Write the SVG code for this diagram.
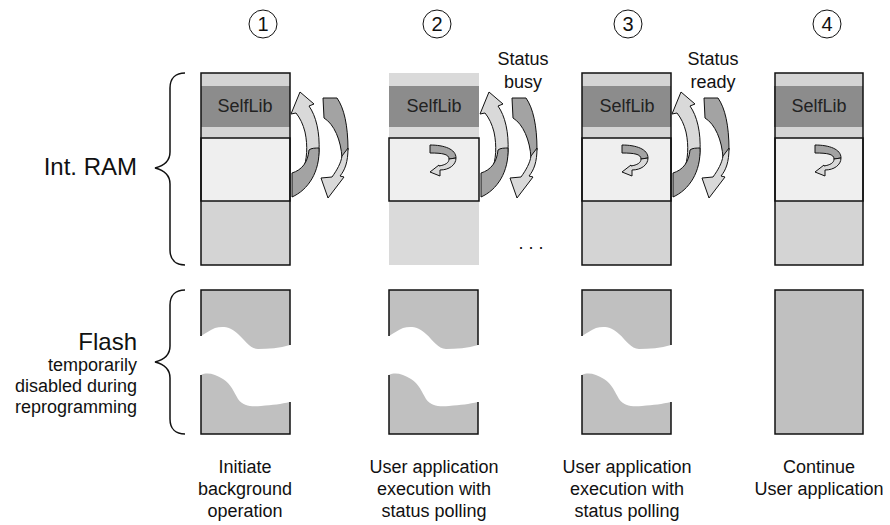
<svg xmlns="http://www.w3.org/2000/svg" width="890" height="525" viewBox="0 0 890 525">
<style>
text{font-family:"Liberation Sans",Arial,sans-serif;fill:#111}
.big{font-size:24px}
.med{font-size:18px}
.lib{font-size:18px;text-anchor:middle;fill:#222}
.cap{font-size:18px;text-anchor:middle}
.num{font-size:20px;text-anchor:middle}
.ln{fill:none;stroke:#111;stroke-width:1.5}
.brace{fill:none;stroke:#111;stroke-width:1.5}
.light{fill:#d9d9d9;stroke:#111;stroke-width:1;stroke-linejoin:round}
.dark{fill:#a3a3a3;stroke:#111;stroke-width:1;stroke-linejoin:round}
.flash{fill:#c0c0c0}
.circ{fill:none;stroke:#111;stroke-width:1}
</style>
<defs>
<g id="bigArrows">
<path class="light" d="M300,92 L314,104 L309,106 C316,116 320,132 319,152 C318,165 314,172 308,176 L303,170 C307,160 308,146 305,132 C303,124 300,118 296,113 L291,114 Z"/>
<path class="dark" d="M319,148 C320,172 308,190 292,197 L292,173 C302,170 308,162 309,150 C311,148 316,148 319,148 Z"/>
<path class="dark" d="M323,98 L337,98 C344,108 348,125 348,150 L342,158 C341,140 334,124 324,118 Z"/>
<path class="light" d="M348,148 C348,162 345,170 340,176 L344,177 L328,198 L321,178 L332,177 C337,170 341,163 342,156 Z"/>
</g>
<g id="smallArrow">
<path class="dark" d="M0,0 C14,0 26,4 26,13 L19,14 C19,9 12,8 0,8 Z"/>
<path class="light" d="M26,13 C26,20 19,25 10,25 L10,31 L0,27 L9,20 L9,21 C15,20 19,18 19,14 Z"/>
</g>
<g id="flashSplit">
<path class="flash" d="M0,0 H89 V55 C79,58 67,59 57,59 C49,59 44,50 37,44 C29,36 21,36 14,38 C9,40 5,43 0,46 Z"/>
<polyline class="ln" points="0,46 0,0 89,0 89,55"/>
<path class="flash" d="M0,85 C6,82 14,84 22,89 C30,94 33,102 37,109 C42,116 50,117 60,116 C72,115 80,114 89,112 V144 H0 Z"/>
<polyline class="ln" points="0,85 0,144 89,144 89,112"/>
</g>
</defs>

<g id="labels">
<text class="big" x="137" y="175" text-anchor="end">Int. RAM</text>
<text class="big" x="137" y="350" text-anchor="end">Flash</text>
<text class="med" x="137" y="371" text-anchor="end">temporarily</text>
<text class="med" x="137" y="392" text-anchor="end">disabled during</text>
<text class="med" x="137" y="413" text-anchor="end">reprogramming</text>
</g>

<g id="braces">
<path class="brace" d="M185,73 C176,73 170,78 170,88 L170,152 C170,162 163,166 155,168 C163,170 170,174 170,184 L170,250 C170,260 176,265 185,265"/>
<path class="brace" d="M185,290 C176,290 170,295 170,305 L170,346 C170,356 163,360 155,362 C163,364 170,368 170,378 L170,419 C170,429 176,434 185,434"/>
</g>

<g id="step1">
<circle class="circ" cx="263" cy="24" r="14"/>
<text class="num" x="263" y="31">1</text>
<rect x="201" y="73" width="89" height="192" fill="#d4d4d4"/>
<rect x="201" y="86" width="89" height="41" fill="#8c8c8c"/>
<text class="lib" x="245" y="112">SelfLib</text>
<rect x="201" y="138" width="89" height="63" fill="#efefef" stroke="#111" stroke-width="1.5"/>
<rect x="201" y="73" width="89" height="192" fill="none" stroke="#111" stroke-width="1.5"/>
<use href="#flashSplit" transform="translate(201,290)"/>
<text class="cap" x="245" y="473">Initiate</text>
<text class="cap" x="245" y="495">background</text>
<text class="cap" x="245" y="517">operation</text>
</g>

<g id="step2">
<circle class="circ" cx="437" cy="24" r="14"/>
<text class="num" x="437" y="31">2</text>
<rect x="389" y="73" width="90" height="192" fill="#dadada"/>
<rect x="389" y="86" width="90" height="41" fill="#8c8c8c"/>
<text class="lib" x="434" y="112">SelfLib</text>
<rect x="389" y="138" width="90" height="63" fill="#efefef" stroke="#111" stroke-width="1.5"/>
<use href="#smallArrow" transform="translate(430,145)"/>
<use href="#flashSplit" transform="translate(389,290)"/>
<text class="cap" x="434" y="473">User application</text>
<text class="cap" x="434" y="495">execution with</text>
<text class="cap" x="434" y="517">status polling</text>
</g>

<g id="step3">
<circle class="circ" cx="628" cy="24" r="14"/>
<text class="num" x="628" y="31">3</text>
<rect x="582" y="73" width="89" height="192" fill="#d4d4d4"/>
<rect x="582" y="86" width="89" height="41" fill="#8c8c8c"/>
<text class="lib" x="627" y="112">SelfLib</text>
<rect x="582" y="138" width="89" height="63" fill="#efefef" stroke="#111" stroke-width="1.5"/>
<rect x="582" y="73" width="89" height="192" fill="none" stroke="#111" stroke-width="1.5"/>
<use href="#smallArrow" transform="translate(622,145)"/>
<use href="#flashSplit" transform="translate(582,290)"/>
<text class="cap" x="627" y="473">User application</text>
<text class="cap" x="627" y="495">execution with</text>
<text class="cap" x="627" y="517">status polling</text>
</g>

<g id="step4">
<circle class="circ" cx="827" cy="24" r="14"/>
<text class="num" x="827" y="31">4</text>
<rect x="775" y="73" width="88" height="192" fill="#d4d4d4"/>
<rect x="774" y="86" width="89" height="41" fill="#8c8c8c"/>
<text class="lib" x="819" y="112">SelfLib</text>
<rect x="775" y="138" width="88" height="63" fill="#efefef" stroke="#111" stroke-width="1.5"/>
<rect x="775" y="73" width="88" height="192" fill="none" stroke="#111" stroke-width="1.5"/>
<use href="#smallArrow" transform="translate(815,145)"/>
<rect x="775" y="290" width="88" height="144" class="flash" stroke="#111" stroke-width="1.5"/>
<text class="cap" x="819" y="473">Continue</text>
<text class="cap" x="819" y="495">User application</text>
</g>

<g id="connectors">
<use href="#bigArrows"/>
<use href="#bigArrows" transform="translate(189,0)"/>
<use href="#bigArrows" transform="translate(381,0)"/>
<text class="med" x="523" y="65" text-anchor="middle">Status</text>
<text class="med" x="523" y="88" text-anchor="middle">busy</text>
<text class="med" x="713" y="65" text-anchor="middle">Status</text>
<text class="med" x="713" y="88" text-anchor="middle">ready</text>
<text class="med" x="531" y="249" text-anchor="middle">. . .</text>
</g>
</svg>
